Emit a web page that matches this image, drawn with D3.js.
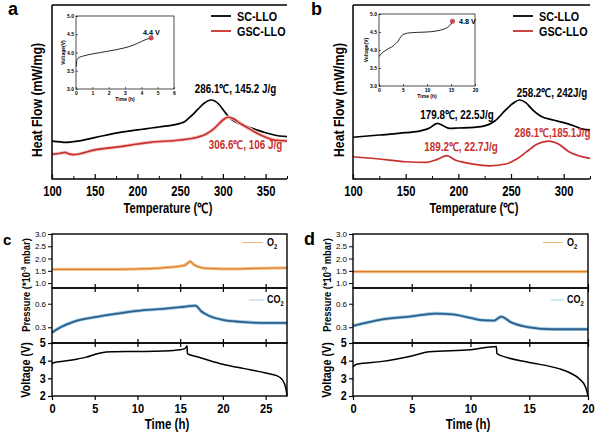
<!DOCTYPE html>
<html><head><meta charset="utf-8">
<script src="https://cdn.jsdelivr.net/npm/d3@7"></script>
<style>body{margin:0;background:#fff}svg{display:block}</style>
</head><body><script>
// ---------------- DATA ----------------
// Panel a (DSC, charged to 4.4 V) : [temperature °C, heat flow (arb.)]
const aSC  = [[100,21.8],[110,21.3],[115,21.1],[130,21.8],[150,23.8],[180,26.8],[200,28.2],[225,29.9],[250,32.0],[255,32.9],[262,35.8],[270,39.7],[278,43.5],[286,45.4],[295,43.1],[300,40.0],[305,36.8],[310,34.3],[320,31.6],[330,29.9],[340,28.2],[350,26.6],[360,25.3],[375,24.3]];
const aGSC = [[100,14.2],[110,14.8],[115,15.3],[120,14.4],[125,14.0],[150,16.7],[180,18.6],[200,20.1],[215,21.1],[250,22.4],[270,24.0],[280,25.7],[290,29.1],[300,33.9],[306,35.5],[312,34.7],[320,32.0],[330,29.1],[340,26.3],[350,24.0],[360,22.4],[375,21.8]];
// Panel b (DSC, charged to 4.8 V)
const bSC  = [[100,24.0],[125,25.3],[150,26.6],[165,27.8],[172,29.1],[180,32.0],[186,30.5],[192,29.1],[200,29.3],[215,29.7],[225,30.5],[235,33.5],[245,39.7],[252,43.5],[258,45.4],[264,43.9],[270,40.0],[278,36.2],[290,33.9],[300,32.4],[310,30.5],[318,28.7],[325,28.2]];
const bGSC = [[100,12.8],[125,11.5],[150,9.9],[170,9.6],[180,11.3],[189,13.4],[197,10.9],[210,9.0],[230,7.6],[245,8.6],[255,11.3],[265,15.7],[275,20.1],[286,21.8],[295,20.1],[305,15.7],[315,13.2],[325,11.9]];
// Insets: [time h, voltage V]
const aInset = [[0.02,3.62],[0.05,3.78],[0.15,3.85],[0.5,3.91],[1,3.96],[1.5,4.0],[2,4.04],[2.5,4.08],[3,4.13],[3.5,4.2],[4,4.3],[4.3,4.36],[4.6,4.4]];
const bInset = [[0,3.82],[0.5,3.9],[1.5,4.0],[3,4.12],[4,4.25],[4.6,4.38],[5.2,4.44],[6,4.47],[8,4.49],[10,4.5],[12,4.53],[13.5,4.58],[14.5,4.65],[15,4.72],[15.3,4.8]];
// Panel c (DEMS, 4.4 V)
const cO2  = [[0,1.56],[3,1.56],[6,1.56],[9,1.57],[12,1.6],[14,1.65],[15.5,1.72],[16.2,1.88],[16.5,1.78],[17,1.68],[18,1.6],[20,1.58],[24,1.6],[27.5,1.62]];
const cCO2 = [[0,0.234],[1,0.3],[2.5,0.37],[4,0.41],[5,0.43],[7,0.465],[10,0.51],[13,0.535],[15,0.556],[16.8,0.575],[17.5,0.5],[18.5,0.44],[20,0.395],[22,0.37],[25,0.355],[27.5,0.355]];
const cV   = [[0,3.82],[0.2,3.88],[1.5,3.98],[3,4.1],[4,4.2],[5,4.35],[5.8,4.45],[7,4.5],[10,4.52],[13,4.55],[15,4.62],[15.6,4.7],[15.8,4.85],[15.85,4.4],[17,4.22],[18.5,4.0],[20,3.8],[22.5,3.55],[25,3.3],[26.3,3.15],[26.9,2.95],[27.2,2.7],[27.4,2.35],[27.5,2.0]];
// Panel d (DEMS, 4.8 V)
const dO2  = [[0,1.47],[5,1.47],[10,1.47],[15,1.47],[20,1.47]];
const dCO2 = [[0,0.317],[2.5,0.4],[5,0.44],[7,0.475],[8.5,0.465],[10,0.42],[11,0.39],[12,0.385],[12.6,0.435],[13.5,0.36],[15,0.3],[17,0.275],[20,0.275]];
const dV   = [[0,3.66],[0.3,3.8],[2.5,3.96],[5,4.27],[6.5,4.5],[10,4.62],[12.2,4.8],[12.25,4.4],[13,4.2],[15,3.9],[17.5,3.55],[18.5,3.3],[19.3,2.95],[19.8,2.5],[20,2.0]];
// Tick values
const abMajorA = [100,150,200,250,300,350];
const abMajorB = [100,150,200,250,300];
const insetYTicks = [3.0,3.5,4.0,4.5,5.0];
const o2Ticks = [1.0,1.5,2.0,2.5,3.0];
const co2Ticks = [0.3,0.6];
const vTicks = [2,3,4,5];
const cTicks = [0,5,10,15,20,25];
const dTicks = [0,5,10,15,20];

// ---------------- DRAW ----------------
const FONT = '"Liberation Sans", Arial, Helvetica, sans-serif';
const RED = '#c9302c';
const svg = d3.select('body').append('svg').attr('width',600).attr('height',437).style('font-family',FONT);

function txt(g,x,y,s,o={}){
  const t = g.append('text')
    .attr('transform',`translate(${x},${y})${o.rot?` rotate(${o.rot})`:''} scale(${o.sx??0.8},1)`)
    .attr('text-anchor',o.anchor||'middle')
    .attr('font-size',o.size||13)
    .attr('font-weight',o.weight||'bold')
    .attr('fill',o.fill||'#000');
  if (o.sub){ t.append('tspan').text(s); t.append('tspan').attr('font-size',(o.size||13)*0.65).attr('dy',(o.size||13)*0.3).text(o.sub); }
  else t.text(s);
  return t;
}
function styleAxis(ax,size,weight,sx){
  ax.attr('font-family',FONT).attr('font-size',size).attr('font-weight',weight);
  ax.selectAll('text').attr('fill','#000');
  if (sx) ax.selectAll('text').attr('transform',`scale(${sx},1)`);
}

function inset(g,b,xDom,xTicks,data,dot,lab,labPos){
  const x = d3.scaleLinear(xDom,[b[0],b[1]]);
  const y = d3.scaleLinear([3,5],[b[3],b[2]]);
  g.append('rect').attr('x',b[0]).attr('y',b[2]).attr('width',b[1]-b[0]).attr('height',b[3]-b[2]).attr('fill','#fff').attr('stroke','#000').attr('stroke-width',0.7);
  const ax = g.append('g').attr('transform',`translate(0,${b[3]})`).call(d3.axisBottom(x).tickValues(xTicks).tickFormat(d3.format('d')).tickSizeInner(-2).tickSizeOuter(0).tickPadding(2));
  ax.select('.domain').remove(); ax.selectAll('line').attr('stroke-width',0.6);
  styleAxis(ax,5,'bold');
  const ay = g.append('g').attr('transform',`translate(${b[0]},0)`).call(d3.axisLeft(y).tickValues(insetYTicks).tickFormat(d3.format('.1f')).tickSizeInner(-2).tickSizeOuter(0).tickPadding(2));
  ay.select('.domain').remove(); ay.selectAll('line').attr('stroke-width',0.6);
  styleAxis(ay,5,'bold');
  txt(g,(b[0]+b[1])/2,b[3]+12,'Time (h)',{size:5,sx:1});
  txt(g,b[0]-11,(b[2]+b[3])/2,'Voltage(V)',{size:5,sx:1,rot:-90});
  g.append('path').datum(data).attr('d',d3.line().x(d=>x(d[0])).y(d=>y(d[1])).curve(d3.curveMonotoneX)).attr('fill','none').attr('stroke','#111').attr('stroke-width',0.9);
  g.append('circle').attr('cx',x(dot[0])).attr('cy',y(dot[1])).attr('r',2.3).attr('fill','#d04a5a').attr('stroke','#a02030').attr('stroke-width',0.4);
  txt(g,labPos[0],labPos[1],lab,{size:8,sx:0.9,anchor:'start'});
}

function heatPanel(p){
  const g = svg.append('g');
  const x = d3.scaleLinear(p.xDom,[p.x0,p.x1]);
  const y = d3.scaleLinear([0,100],[179,5]);
  const line = d3.line().x(d=>x(d[0])).y(d=>y(d[1])).curve(d3.curveMonotoneX);
  p.series.forEach(s=>{
    if (s.glow) g.append('path').datum(s.data).attr('d',line).attr('fill','none').attr('stroke','#f1c8c4').attr('stroke-width',3.5);
    g.append('path').datum(s.data).attr('d',line).attr('fill','none').attr('stroke',s.color).attr('stroke-width',1.7);
  });
  g.append('path').attr('d',`M${p.x0},5V179H${p.x1}M${p.x0},5H${p.x1}`).attr('fill','none').attr('stroke','#000').attr('stroke-width',1.5);
  const ax = g.append('g').attr('transform','translate(0,179)').call(d3.axisBottom(x).tickValues(p.ticks).tickSizeInner(-5).tickSizeOuter(0).tickPadding(7));
  ax.select('.domain').remove(); ax.selectAll('line').attr('stroke-width',1.2);
  styleAxis(ax,14,'bold',0.8);
  const mn = g.append('g').attr('transform','translate(0,179)').call(d3.axisBottom(x).tickValues(p.minor).tickSizeInner(-3).tickSizeOuter(0).tickFormat(''));
  mn.select('.domain').remove(); mn.selectAll('line').attr('stroke-width',1);
  txt(g,p.xTitle,213,'Temperature (℃)',{size:14,sx:0.8});
  txt(g,p.yTitleX,100,'Heat Flow (mW/mg)',{size:14.5,sx:0.85,rot:-90});
  txt(g,p.letter[0],p.letter[1],p.letterText,{size:18,sx:1,anchor:'start'});
  // legend
  [['SC-LLO','#000',16],['GSC-LLO',RED,31]].forEach(([n,c,yy])=>{
    g.append('line').attr('x1',p.leg).attr('x2',p.leg+20).attr('y1',yy).attr('y2',yy).attr('stroke',c).attr('stroke-width',1.8);
    txt(g,p.leg+26,yy+5,n,{size:13,sx:0.83,anchor:'start'});
  });
  p.notes.forEach(n=>txt(g,n[0],n[1],n[2],{size:12,sx:0.82,fill:n[3]}));
  inset(g,p.inset.box,p.inset.xDom,p.inset.xTicks,p.inset.data,p.inset.dot,p.inset.lab,p.inset.labPos);
}

heatPanel({xDom:[100,375],x0:52,x1:287,ticks:abMajorA,minor:[125,175,225,275,325,375],
  series:[{data:aSC,color:'#000'},{data:aGSC,color:RED,glow:true}],
  xTitle:168,yTitleX:42,letter:[8,15],letterText:'a',leg:211,
  notes:[[235.5,93,'286.1℃, 145.2 J/g','#000'],[245.5,149,'306.6℃, 106 J/g',RED]],
  inset:{box:[76,174,16,89],xDom:[0,6],xTicks:[0,1,2,3,4,5,6],data:aInset,dot:[4.6,4.4],lab:'4.4 V',labPos:[143,35]}});
heatPanel({xDom:[100,325],x0:353,x1:590,ticks:abMajorB,minor:[125,175,225,275,325],
  series:[{data:bSC,color:'#000'},{data:bGSC,color:RED}],
  xTitle:474,yTitleX:344,letter:[311,15],letterText:'b',leg:513,
  notes:[[552,96.5,'258.2℃, 242J/g','#000'],[457,119,'179.8℃, 22.5J/g','#000'],[552.5,137,'286.1℃,185.1J/g',RED],[461,150.5,'189.2℃, 22.7J/g',RED]],
  inset:{box:[379,475,14,86],xDom:[0,20],xTicks:[0,5,10,15,20],data:bInset,dot:[15.3,4.8],lab:'4.8 V',labPos:[459,23.5]}});

function gasPanel(p){
  const g = svg.append('g');
  const x = d3.scaleLinear(p.xDom,[p.x0,p.x1]);
  const y1 = d3.scaleLinear([0.8,3.0],[288,234]);
  const y2 = d3.scaleLinear([0.1,0.8],[343,288]);
  const y3 = d3.scaleLinear([2,5],[396,343]);
  const mk = ys => d3.line().x(d=>x(d[0])).y(d=>ys(d[1])).curve(d3.curveMonotoneX);
  // O2
  g.append('path').datum(p.o2).attr('d',mk(y1)).attr('fill','none').attr('stroke','#f6c48e').attr('stroke-width',3.2);
  g.append('path').datum(p.o2).attr('d',mk(y1)).attr('fill','none').attr('stroke','#d98230').attr('stroke-width',1.3);
  // CO2
  g.append('path').datum(p.co2).attr('d',mk(y2)).attr('fill','none').attr('stroke','#9bcbe6').attr('stroke-width',3.4);
  g.append('path').datum(p.co2).attr('d',mk(y2)).attr('fill','none').attr('stroke','#2f5f8a').attr('stroke-width',1.8);
  // Voltage
  g.append('path').datum(p.v).attr('d',mk(y3)).attr('fill','none').attr('stroke','#000').attr('stroke-width',1.5);
  // frames
  [[234,288],[288,343],[343,396]].forEach(([t,b])=>{
    g.append('rect').attr('x',p.x0).attr('y',t).attr('width',p.x1-p.x0).attr('height',b-t).attr('fill','none').attr('stroke','#000').attr('stroke-width',1.4);
  });
  // x ticks at inner borders
  [288,343].forEach(yy=>{
    const a = g.append('g').attr('transform',`translate(0,${yy-4})`).call(d3.axisBottom(x).tickValues(p.xTicks.slice(1)).tickSize(8).tickSizeOuter(0).tickFormat(''));
    a.select('.domain').remove(); a.selectAll('line').attr('stroke-width',1.2);
  });
  const ax = g.append('g').attr('transform','translate(0,396)').call(d3.axisBottom(x).tickValues(p.xTicks).tickFormat(d3.format('d')).tickSizeInner(4).tickSizeOuter(0).tickPadding(3));
  ax.select('.domain').remove(); ax.selectAll('line').attr('stroke-width',1.2);
  styleAxis(ax,13.5,'bold',0.82);
  // y axes
  const a1 = g.append('g').attr('transform',`translate(${p.x0},0)`).call(d3.axisLeft(y1).tickValues(o2Ticks).tickFormat(d3.format('.1f')).tickSizeInner(4).tickSizeOuter(0).tickPadding(2));
  a1.select('.domain').remove(); a1.selectAll('line').attr('stroke-width',1);
  styleAxis(a1,8,'normal');
  const a2 = g.append('g').attr('transform',`translate(${p.x0},0)`).call(d3.axisLeft(y2).tickValues(co2Ticks).tickFormat(d3.format('.1f')).tickSizeInner(4).tickSizeOuter(0).tickPadding(2));
  a2.select('.domain').remove(); a2.selectAll('line').attr('stroke-width',1);
  styleAxis(a2,8,'normal');
  const a3 = g.append('g').attr('transform',`translate(${p.x0},0)`).call(d3.axisLeft(y3).tickValues(vTicks).tickFormat(d3.format('d')).tickSizeInner(4).tickSizeOuter(0).tickPadding(3));
  a3.select('.domain').remove(); a3.selectAll('line').attr('stroke-width',1.2);
  styleAxis(a3,12,'bold',0.9);
  // titles
  txt(g,p.x0+115,429,'Time (h)',{size:14,sx:0.82});
  const pt = txt(g,p.x0-22,285,'Pressure (*10',{size:11,sx:0.85,rot:-90});
  pt.append('tspan').attr('font-size',7).attr('dy',-4).text('-9');
  pt.append('tspan').attr('dy',4).text(' mbar)');
  txt(g,p.x0-22,370,'Voltage (V)',{size:12,sx:0.9,rot:-90});
  txt(g,p.letter[0],245,p.letterText,{size:p.letterSize,sx:1,anchor:'start'});
  // legends
  g.append('line').attr('x1',p.o2Leg[0]).attr('x2',p.o2Leg[1]).attr('y1',242.5).attr('y2',242.5).attr('stroke','#f3b77a').attr('stroke-width',1);
  txt(g,p.o2Leg[1]+4,245.5,'O',{size:10,sx:0.9,anchor:'start',sub:'2'});
  g.append('line').attr('x1',p.co2Leg[0]).attr('x2',p.co2Leg[1]).attr('y1',300).attr('y2',300).attr('stroke','#a9d2ea').attr('stroke-width',1);
  txt(g,p.co2Leg[1]+3,302.5,'CO',{size:10,sx:0.9,anchor:'start',sub:'2'});
}

gasPanel({xDom:[0,27.5],x0:52,x1:287,xTicks:cTicks,o2:cO2,co2:cCO2,v:cV,letter:[3],letterText:'c',letterSize:15,o2Leg:[242,263],co2Leg:[249,264]});
gasPanel({xDom:[0,20],x0:353,x1:588,xTicks:dTicks,o2:dO2,co2:dCO2,v:dV,letter:[304],letterText:'d',letterSize:18,o2Leg:[543,563],co2Leg:[551,564]});
</script></body></html>
